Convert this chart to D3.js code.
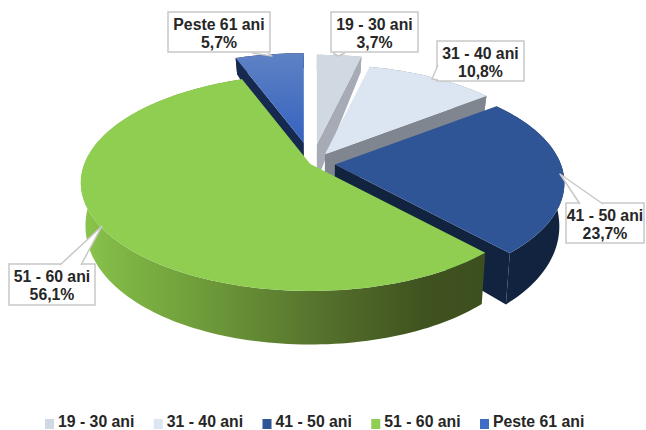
<!DOCTYPE html>
<html><head><meta charset="utf-8">
<script src="https://cdn.jsdelivr.net/npm/d3@7"></script>
<style>html,body{margin:0;padding:0;background:#fff}svg{display:block}</style>
</head><body><svg id="c" width="646" height="430"></svg>
<script>
const categories = ["19 - 30 ani","31 - 40 ani","41 - 50 ani","51 - 60 ani","Peste 61 ani"];
const values = [3.7,10.8,23.7,56.1,5.7];
const valueLabels = ["3,7%","10,8%","23,7%","56,1%","5,7%"];

// styling / layout, by category
const explode = [42,24,23,2,46];
const topFill = ["#d0d8e2","#dce6f2","#2f5597","#8fce50","url(#peste)"];
const wallFill = ["#a6abb5","#7f868f","#12233f","url(#green)","#16294f"];
const swatch = ["#d0d8e2","#dce6f2","#2f5597","#8fce50","#3f6cc4"];
const cutFaces = [[1],[1],[1],[],[0]];
const drawOrder = [4,0,1,2,3];
const boxes = [
 {x:331,y:12,w:87,h:40,tip:[338,56],base:[[333,53],[345,53]]},
 {x:437,y:41,w:87,h:40,tip:[432,79],base:[[438,65],[438,80]]},
 {x:566,y:203,w:78,h:40,tip:[560,174],base:[[580,204],[603,204]]},
 {x:9,y:264,w:86,h:41,tip:[102,226],base:[[60,265],[81,265]]},
 {x:168,y:12,w:102,h:40,tip:[272,56],base:[[252,53],[268,53]]}
];
const cx=312, cy=163.5, R=226, Ry=105, k=0.173, yr=0.46, xs=0.98;
const FONT="'Liberation Sans',Arial,sans-serif";

const svg=d3.select("#c");
const defs=svg.append("defs");
function grad(id,attrs,stops){
  const g=defs.append("linearGradient").attr("id",id).attr("gradientUnits","userSpaceOnUse");
  Object.entries(attrs).forEach(([a,v])=>g.attr(a,v));
  stops.forEach(s=>g.append("stop").attr("offset",s[0]).attr("stop-color",s[1]));
}
grad("green",{x1:81,x2:486,y1:0,y2:0},[[0,"#8ac64c"],[0.08,"#80b845"],[0.35,"#6a9538"],[0.6,"#55702c"],[0.85,"#3f521f"],[1,"#3c4f1e"]]);
grad("peste",{x1:0,x2:0,y1:53,y2:150},[[0,"#5f82c4"],[1,"#3260bf"]]);

const arcs=d3.pie().sort(null).startAngle(0).endAngle(2*Math.PI).value(d=>d)(values);

function surf(a){const p=1/(1+k*Math.cos(a));return [R*Math.sin(a)*p,-Ry*Math.cos(a)*p];}
function apex(a,e){return [cx+e*Math.sin(a),cy-e*yr*Math.cos(a)];}
function lower(P){const r=P[1]-cy;return [cx+xs*(P[0]-cx),P[1]+40+0.17*r-0.0005*r*r];}
const line=d3.line();

drawOrder.forEach(i=>{
  const d=arcs[i], mid=(d.startAngle+d.endAngle)/2, A=apex(mid,explode[i]);
  const n=Math.max(4,Math.ceil((d.endAngle-d.startAngle)*40));
  const rim=d3.range(n+1).map(j=>{
    const a=d.startAngle+(d.endAngle-d.startAngle)*j/n, s=surf(a);
    return [A[0]+s[0],A[1]+s[1]];
  });
  const rimLow=rim.map(lower), aLow=lower(A);
  const g=svg.append("g").attr("class","slice");
  const wall=wallFill[i];
  g.append("path").attr("d",line(rim.concat(rimLow.slice().reverse()))+"Z").attr("fill",wall);
  cutFaces[i].forEach(f=>{
    const t=f?rim[n]:rim[0], b=f?rimLow[n]:rimLow[0];
    g.append("path").attr("d",line([A,t,b,aLow])+"Z").attr("fill",wall);
  });
  g.append("path").attr("d",line([A].concat(rim))+"Z").attr("fill",topFill[i]);
});

// callouts
const lab=svg.append("g");
boxes.forEach((b,i)=>{
  lab.append("rect").attr("x",b.x).attr("y",b.y).attr("width",b.w).attr("height",b.h)
    .attr("fill","#fff").attr("stroke","#c8c8c8").attr("stroke-width",1.5);
  lab.append("path")
    .attr("d",line([b.base[0],b.tip,b.base[1]]))
    .attr("fill","#fff").attr("stroke","#c8c8c8").attr("stroke-width",1.5).attr("stroke-linejoin","round");
  const t=lab.append("text").attr("text-anchor","middle")
    .attr("font-family",FONT).attr("font-weight","bold")
    .attr("font-size",15.8).attr("fill","#262626");
  t.append("tspan").attr("x",b.x+b.w/2).attr("y",b.y+17.5).text(categories[i]);
  t.append("tspan").attr("x",b.x+b.w/2).attr("y",b.y+35.5).text(valueLabels[i]);
});

// legend
const lx=d3.scalePoint().domain(categories).range([45,480]);
const leg=svg.append("g");
categories.forEach((c,i)=>{
  leg.append("rect").attr("x",lx(c)).attr("y",419).attr("width",9).attr("height",10).attr("fill",swatch[i]);
  leg.append("text").attr("x",lx(c)+13).attr("y",426.5)
    .attr("font-family",FONT).attr("font-weight","bold")
    .attr("font-size",15.8).attr("fill","#262626").text(c);
});
</script></body></html>
